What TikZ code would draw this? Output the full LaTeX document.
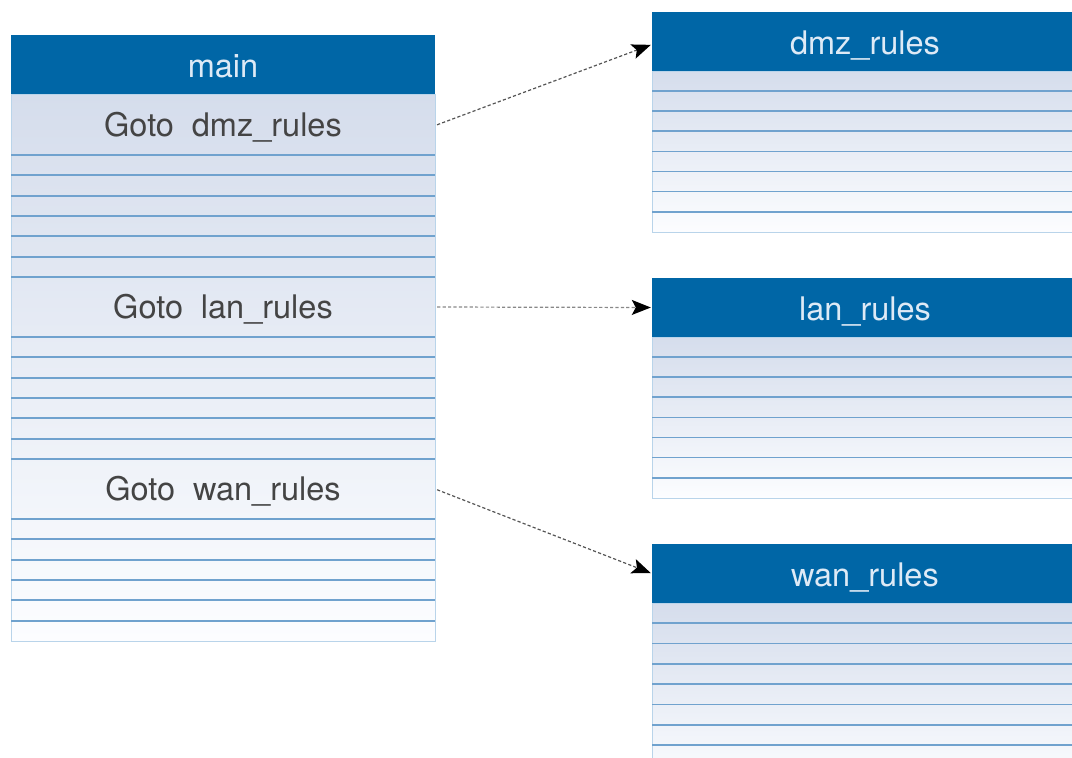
\documentclass[tikz,border=0pt]{standalone}
\usepackage{fontspec}
\setmainfont{TeX Gyre Heros}
\usetikzlibrary{arrows.meta}
\definecolor{hdr}{RGB}{0,102,166}
\definecolor{hdrtxt}{RGB}{222,234,246}
\definecolor{rowtop}{RGB}{213,221,236}
\definecolor{rowbot}{RGB}{252,253,255}
\definecolor{rowline}{RGB}{112,162,206}
\definecolor{framec}{RGB}{185,212,234}
\definecolor{txt}{RGB}{68,68,68}
\definecolor{arrc}{RGB}{85,85,85}
\begin{document}
\begin{tikzpicture}[x=1pt,y=-1pt,
  header/.style={fill=hdr, text=hdrtxt, minimum width=424pt, minimum height=59pt,
    inner sep=0pt, text height=26.4pt, text depth=0.4pt,
    font=\fontsize{32.5}{36}\selectfont},
  bigrow/.style={minimum width=424pt, minimum height=61pt, inner sep=0pt,
    text height=22.8pt, text depth=0.4pt,
    text=txt, font=\fontsize{32.5}{36}\selectfont},
  body/.style={top color=rowtop, bottom color=rowbot, draw=framec, line width=1pt},
  rline/.style={draw=rowline, line width=1.7pt},
  link/.style={draw=arrc, line width=1.2pt, dash pattern=on 3.2pt off 2.2pt,
    -{Stealth[length=19pt,width=15pt,inset=4pt,color=black,fill=black]},
    shorten <=2pt, shorten >=1pt}
]
\useasboundingbox (0,0) rectangle (1072,758);
\clip (0,0) rectangle (1072,758);

% ---------- main table ----------
\shade[body] (11,94) rectangle (435,641);
\foreach \s in {155,337,519}{
  \foreach \k in {0,...,5}{
    \draw[rline] (11,\s+20.33*\k) -- (435,\s+20.33*\k);
  }
}
\draw[rline] (11,277) -- (435,277);
\draw[rline] (11,459) -- (435,459);
\node[header] (main) at (223,64.5) {main};
\node[bigrow] (gdmz) at (223,125.5) {Goto\hspace{0.55em}dmz\_rules};
\node[bigrow] (glan) at (223,307) {Goto\hspace{0.55em}lan\_rules};
\node[bigrow] (gwan) at (223,489) {Goto\hspace{0.55em}wan\_rules};

% ---------- right tables ----------
\shade[body] (652,71) rectangle (1078,232);
\foreach \k in {1,...,7}{\draw[rline] (652,71+20.1*\k) -- (1078,71+20.1*\k);}
\node[header, minimum width=426pt] (dmz) at (865,41.5) {dmz\_rules};

\shade[body] (652,337) rectangle (1078,498);
\foreach \k in {1,...,7}{\draw[rline] (652,337+20.1*\k) -- (1078,337+20.1*\k);}
\node[header, minimum width=426pt] (lan) at (865,307.5) {lan\_rules};

\shade[body] (652,603) rectangle (1078,784);
\foreach \k in {1,...,8}{\draw[rline] (652,603+20.3*\k) -- (1078,603+20.3*\k);}
\node[header, minimum width=426pt] (wan) at (865,573.5) {wan\_rules};

% ---------- connectors ----------
\draw[link] (gdmz.east) -- ([yshift=-3pt]dmz.west);
\draw[link, draw=arrc!70] (glan.east) -- (lan.west);
\draw[link] (gwan.east) -- (wan.west);
\end{tikzpicture}
\end{document}
